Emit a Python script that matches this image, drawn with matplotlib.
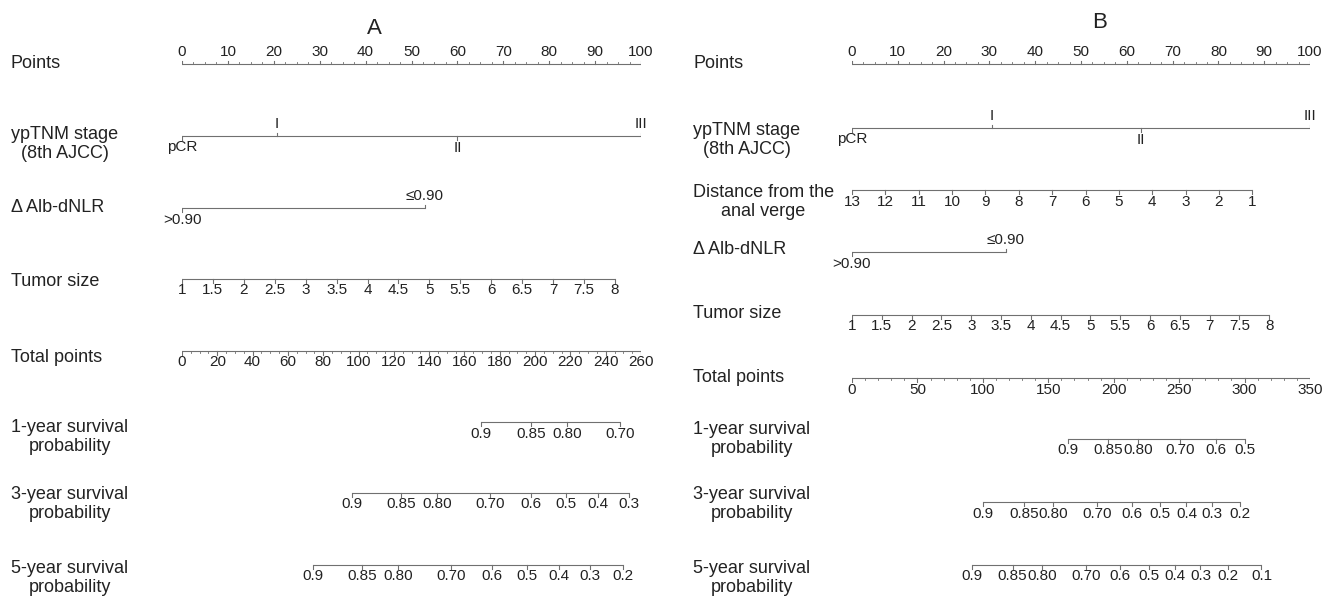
import numpy as np
import matplotlib.pyplot as plt
from matplotlib import transforms

plt.rcParams['font.family'] = ['Liberation Sans', 'DejaVu Sans']

LINE = '#707070'
TXT = '#222222'

# ---- panel A: scores on the 0-100 points scale ----
a_points = np.arange(0, 101, 10)
a_stage_names = ['pCR', 'I', 'II', 'III']
a_stage_pts = [0, 20.6, 60.0, 100.0]
a_alb_names = ['>0.90', '≤0.90']
a_alb_pts = [0, 52.9]
a_tumor = np.arange(1, 8.01, 0.5)
a_tumor_pts = [0, 94.3]          # points at tumor size 1 and 8
a_total_max = 260
a_total = np.arange(0, 261, 20)
a_surv1_lab = ['0.9', '0.85', '0.80', '0.70']
a_surv1_tot = [169.5, 197.9, 218.3, 248.1]
a_surv3_lab = ['0.9', '0.85', '0.80', '0.70', '0.6', '0.5', '0.4', '0.3']
a_surv3_tot = [96.1, 124.1, 144.6, 174.5, 197.9, 217.5, 235.5, 253.4]
a_surv5_lab = ['0.9', '0.85', '0.80', '0.70', '0.6', '0.5', '0.4', '0.3', '0.2']
a_surv5_tot = [74.0, 101.8, 122.4, 152.4, 175.8, 195.4, 213.4, 231.1, 250.0]

# ---- panel B ----
b_points = np.arange(0, 101, 10)
b_stage_names = ['pCR', 'I', 'II', 'III']
b_stage_pts = [0, 30.6, 63.1, 100.0]
b_dist = np.arange(13, 0, -1)
b_dist_pts = [0, 87.4]           # points at 13 cm and 1 cm
b_alb_names = ['>0.90', '≤0.90']
b_alb_pts = [0, 33.6]
b_tumor = np.arange(1, 8.01, 0.5)
b_tumor_pts = [0, 91.1]
b_total_max = 350
b_total = np.arange(0, 351, 50)
b_surv1_lab = ['0.9', '0.85', '0.80', '0.70', '0.6', '0.5']
b_surv1_tot = [165.2, 196.0, 218.6, 250.5, 278.5, 300.1]
b_surv3_lab = ['0.9', '0.85', '0.80', '0.70', '0.6', '0.5', '0.4', '0.3', '0.2']
b_surv3_tot = [100.3, 131.3, 153.7, 187.6, 213.6, 235.2, 255.6, 275.1, 296.3]
b_surv5_lab = ['0.9', '0.85', '0.80', '0.70', '0.6', '0.5', '0.4', '0.3', '0.2', '0.1']
b_surv5_tot = [91.4, 122.7, 145.3, 178.9, 204.7, 226.8, 246.7, 266.3, 287.4, 312.9]

W, H = 1338, 598
fig = plt.figure(figsize=(W / 100, H / 100), dpi=100)


def fmt(v):
    return f'{v:g}'


def scale(ax, y, pos, labels, sides, minor=(), fs=11):
    """one nomogram axis line with ticks pointing to their labels"""
    if isinstance(sides, str):
        sides = [sides] * len(pos)
    ax.plot([min(pos), max(pos)], [y, y], color=LINE, lw=0.8, solid_capstyle='butt')
    for p, lab, s in zip(pos, labels, sides):
        d = -1 if s == 'top' else 1
        ax.plot([p, p], [y, y + d * 3.5], color=LINE, lw=0.8)
        ax.text(p, y + d * 4.5, lab, ha='center', va='bottom' if s == 'top' else 'top',
                fontsize=fs, color=TXT)
    for p in minor:
        d = -1 if sides[0] == 'top' else 1
        ax.plot([p, p], [y, y + d * 2], color=LINE, lw=0.6)


def panel(x0, x1):
    ax = fig.add_axes([x0 / W, 0, (x1 - x0) / W, 1])
    ax.set_xlim(0, 100)
    ax.set_ylim(H, 0)
    ax.axis('off')
    return ax


def row_label(ax, xpx, y, text):
    tr = transforms.blended_transform_factory(fig.transFigure, ax.transData)
    ax.text(xpx / W, y, text, transform=tr, ha='left', va='center', fontsize=13,
            color=TXT, multialignment='center', linespacing=1.15)


def lin(vals, lo, hi, pts):
    # linear variable -> points
    return pts[0] + (np.asarray(vals) - lo) / (hi - lo) * (pts[1] - pts[0])


# ================= A =================
ax = panel(182, 641)
ax.text(42, 28, 'A', ha='center', va='center', fontsize=16, color=TXT)

scale(ax, 64, a_points, [str(v) for v in a_points], 'top',
      minor=[m for m in np.arange(0, 100.1, 2.5) if m % 10])
row_label(ax, 11, 63, 'Points')

scale(ax, 136, a_stage_pts, a_stage_names, ['bottom', 'top', 'bottom', 'top'])
row_label(ax, 11, 144, 'ypTNM stage\n(8th AJCC)')

scale(ax, 208, a_alb_pts, a_alb_names, ['bottom', 'top'])
row_label(ax, 11, 208, 'Δ Alb-dNLR')

scale(ax, 279, lin(a_tumor, 1, 8, a_tumor_pts), [fmt(v) for v in a_tumor], 'bottom')
row_label(ax, 11, 282, 'Tumor size')

tot = np.asarray(a_total) * 100 / a_total_max
scale(ax, 351, tot, [str(v) for v in a_total], 'bottom',
      minor=[m * 100 / a_total_max for m in np.arange(0, 261, 5) if m % 20])
row_label(ax, 11, 358, 'Total points')

for y, ly, labs, tots, name in [(422, 437, a_surv1_lab, a_surv1_tot, '1'),
                                (493, 504, a_surv3_lab, a_surv3_tot, '3'),
                                (565, 578, a_surv5_lab, a_surv5_tot, '5')]:
    scale(ax, y, np.asarray(tots) * 100 / a_total_max, labs, 'bottom')
    row_label(ax, 11, ly, f'{name}-year survival\nprobability')

# ================= B =================
ax = panel(852, 1310)
ax.text(54, 22, 'B', ha='center', va='center', fontsize=16, color=TXT)

scale(ax, 64, b_points, [str(v) for v in b_points], 'top',
      minor=[m for m in np.arange(0, 100.1, 2.5) if m % 10])
row_label(ax, 693, 63, 'Points')

scale(ax, 128, b_stage_pts, b_stage_names, ['bottom', 'top', 'bottom', 'top'])
row_label(ax, 693, 140, 'ypTNM stage\n(8th AJCC)')

scale(ax, 190, lin(b_dist, 13, 1, b_dist_pts), [str(v) for v in b_dist], 'bottom')
row_label(ax, 693, 202, 'Distance from the\nanal verge')

scale(ax, 252, b_alb_pts, b_alb_names, ['bottom', 'top'])
row_label(ax, 693, 250, 'Δ Alb-dNLR')

scale(ax, 315, lin(b_tumor, 1, 8, b_tumor_pts), [fmt(v) for v in b_tumor], 'bottom')
row_label(ax, 693, 313, 'Tumor size')

tot = np.asarray(b_total) * 100 / b_total_max
scale(ax, 378, tot, [str(v) for v in b_total], 'bottom',
      minor=[m * 100 / b_total_max for m in np.arange(0, 351, 10) if m % 50])
row_label(ax, 693, 377, 'Total points')

for y, ly, labs, tots, name in [(439, 439, b_surv1_lab, b_surv1_tot, '1'),
                                (502, 504, b_surv3_lab, b_surv3_tot, '3'),
                                (565, 578, b_surv5_lab, b_surv5_tot, '5')]:
    scale(ax, y, np.asarray(tots) * 100 / b_total_max, labs, 'bottom')
    row_label(ax, 693, ly, f'{name}-year survival\nprobability')

fig.savefig('out.png', dpi=100, facecolor='white')
